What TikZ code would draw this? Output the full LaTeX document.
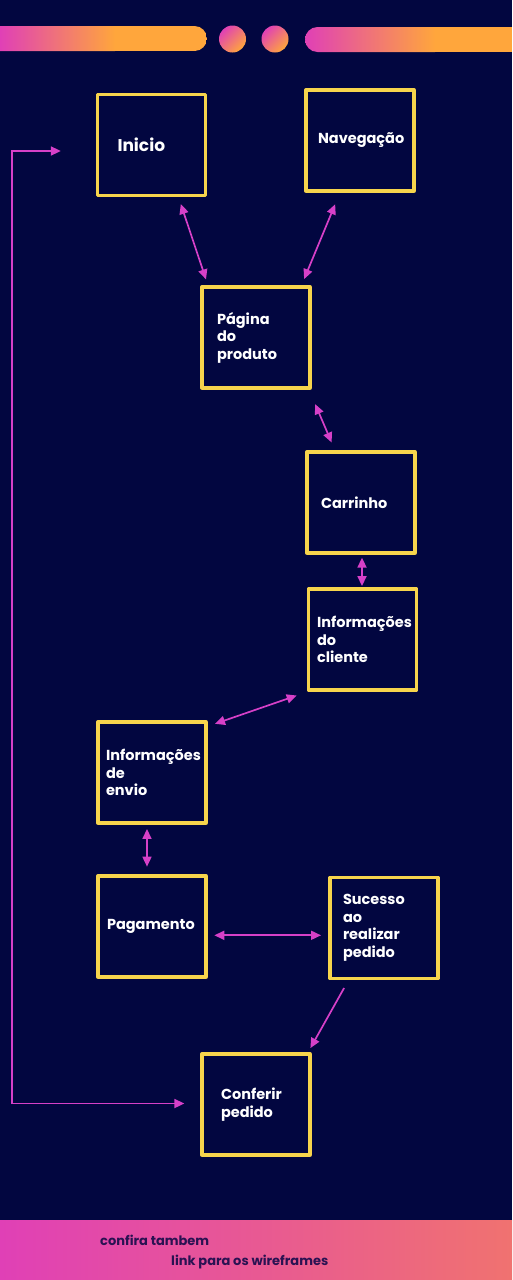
\documentclass[tikz,border=0pt]{standalone}
\usepackage{fontspec}
\setmainfont{Poppins}
\usetikzlibrary{arrows.meta}

\definecolor{bg}{RGB}{2,6,64}
\definecolor{boxyellow}{RGB}{247,212,76}
\definecolor{linkpink}{RGB}{214,64,200}
\definecolor{barpink}{RGB}{224,64,182}
\definecolor{barorange}{RGB}{255,166,60}
\definecolor{bandend}{RGB}{240,114,112}
\definecolor{foottext}{RGB}{42,18,82}

\begin{document}
\begin{tikzpicture}[x=1pt, y=-1pt,
  box/.style={draw=boxyellow, line width=3.3pt, line join=round, minimum width=108pt, minimum height=101pt,
    inner sep=0pt, align=left, text=white, font=\fontsize{14.5}{17.5}\selectfont\bfseries},
  link/.style={draw=linkpink, line width=1.7pt, {Triangle[length=10pt,width=9pt]}-{Triangle[length=10pt,width=9pt]}},
  foot/.style={text=foottext, font=\fontsize{13}{15}\selectfont\bfseries, anchor=base west, inner sep=0pt}]

\useasboundingbox (0,0) rectangle (512,1280);
\fill[bg] (0,0) rectangle (512,1280);

% barra in alto
\begin{scope}
  \clip[rounded corners=12.5pt] (-20,26) rectangle (207,51);
  \shade[left color=barpink, right color=barorange] (0,26) rectangle (115,51);
  \fill[barorange] (114.5,26) rectangle (207,51);
\end{scope}
\begin{scope}
  \clip[rounded corners=12.5pt] (305,27) rectangle (540,52);
  \shade[left color=barpink, right color=barorange] (305,27) rectangle (435,52);
  \fill[barorange] (434.5,27) rectangle (512,52);
\end{scope}
\shade[top color=barpink, bottom color=barorange, shading angle=45] (232.5,39) circle[radius=13.5pt];
\shade[top color=barpink, bottom color=barorange, shading angle=45] (275,39) circle[radius=13.5pt];

% pagine
\node[box, text width=68pt, font=\fontsize{17}{20}\selectfont\bfseries] (inicio) at (151.5,145) {Inicio};
\node[box, text width=84pt] (navegacao) at (360,140.5) {Navegação};
\node[box, text width=78pt] (pagina) at (256,337.5) {Página\\do\\produto};
\node[box, text width=80pt] (carrinho) at (361,502.5) {Carrinho};
\node[box, text width=91pt] (cliente) at (362.5,639.5) {Informações\\do\\cliente};
\node[box, text width=92pt] (envio) at (152,772.5) {Informações\\de\\envio};
\node[box, text width=90pt] (pagamento) at (152,926.5) {Pagamento};
\node[box, text width=82pt] (sucesso) at (384,928) {Sucesso\\ao\\realizar\\pedido};
\node[box, text width=70pt] (conferir) at (256,1104.5) {Conferir\\pedido};

\coordinate (ritorno) at (12,600);

% Archi
\draw[link, shorten <=7.3pt, shorten >=6.3pt] ([xshift=27pt]inicio.south) -- ([xshift=-48pt]pagina.north);
\draw[link, shorten <=12.6pt, shorten >=6.8pt] ([xshift=-20pt]navegacao.south) -- ([xshift=45.5pt]pagina.north);
\draw[link, shorten <=15.8pt, shorten >=8.6pt] ([xshift=53pt]pagina.south) -- ([xshift=-26pt]carrinho.north);
\draw[link, shorten <=3pt, shorten >=1.3pt] ([xshift=1pt]carrinho.south) -- ([xshift=1pt]cliente.north -| carrinho.south);
\draw[link, shorten <=11.8pt, shorten >=7.8pt] ([xshift=1pt]cliente.south west) -- ([yshift=-6pt]envio.north east);
\draw[link, shorten <=4.3pt, shorten >=7.7pt] ([xshift=-5pt]envio.south) -- ([xshift=-5pt]pagamento.north);
\draw[link, shorten <=6.7pt, shorten >=7.3pt] ([yshift=-8.8pt]pagamento.east) -- ([yshift=-8.8pt]pagamento.east -| sucesso.west);
\draw[link, -{Triangle[length=10pt,width=9pt]}, shorten <=9pt, shorten >=4.9pt] ([xshift=-35.5pt]sucesso.south) -- ([xshift=52pt]conferir.north);
\draw[link] ([xshift=-35pt,yshift=-6pt]inicio.west) -| (ritorno) |- ([xshift=-16pt,yshift=1pt]conferir.west);

% piede
\shade[left color=barpink, right color=bandend] (0,1220) rectangle (512,1280);
\node[foot] (confira) at (100,1245) {confira tambem};
\node[foot] (wireframes) at (171,1265) {link para os wireframes};

\end{tikzpicture}
\end{document}
